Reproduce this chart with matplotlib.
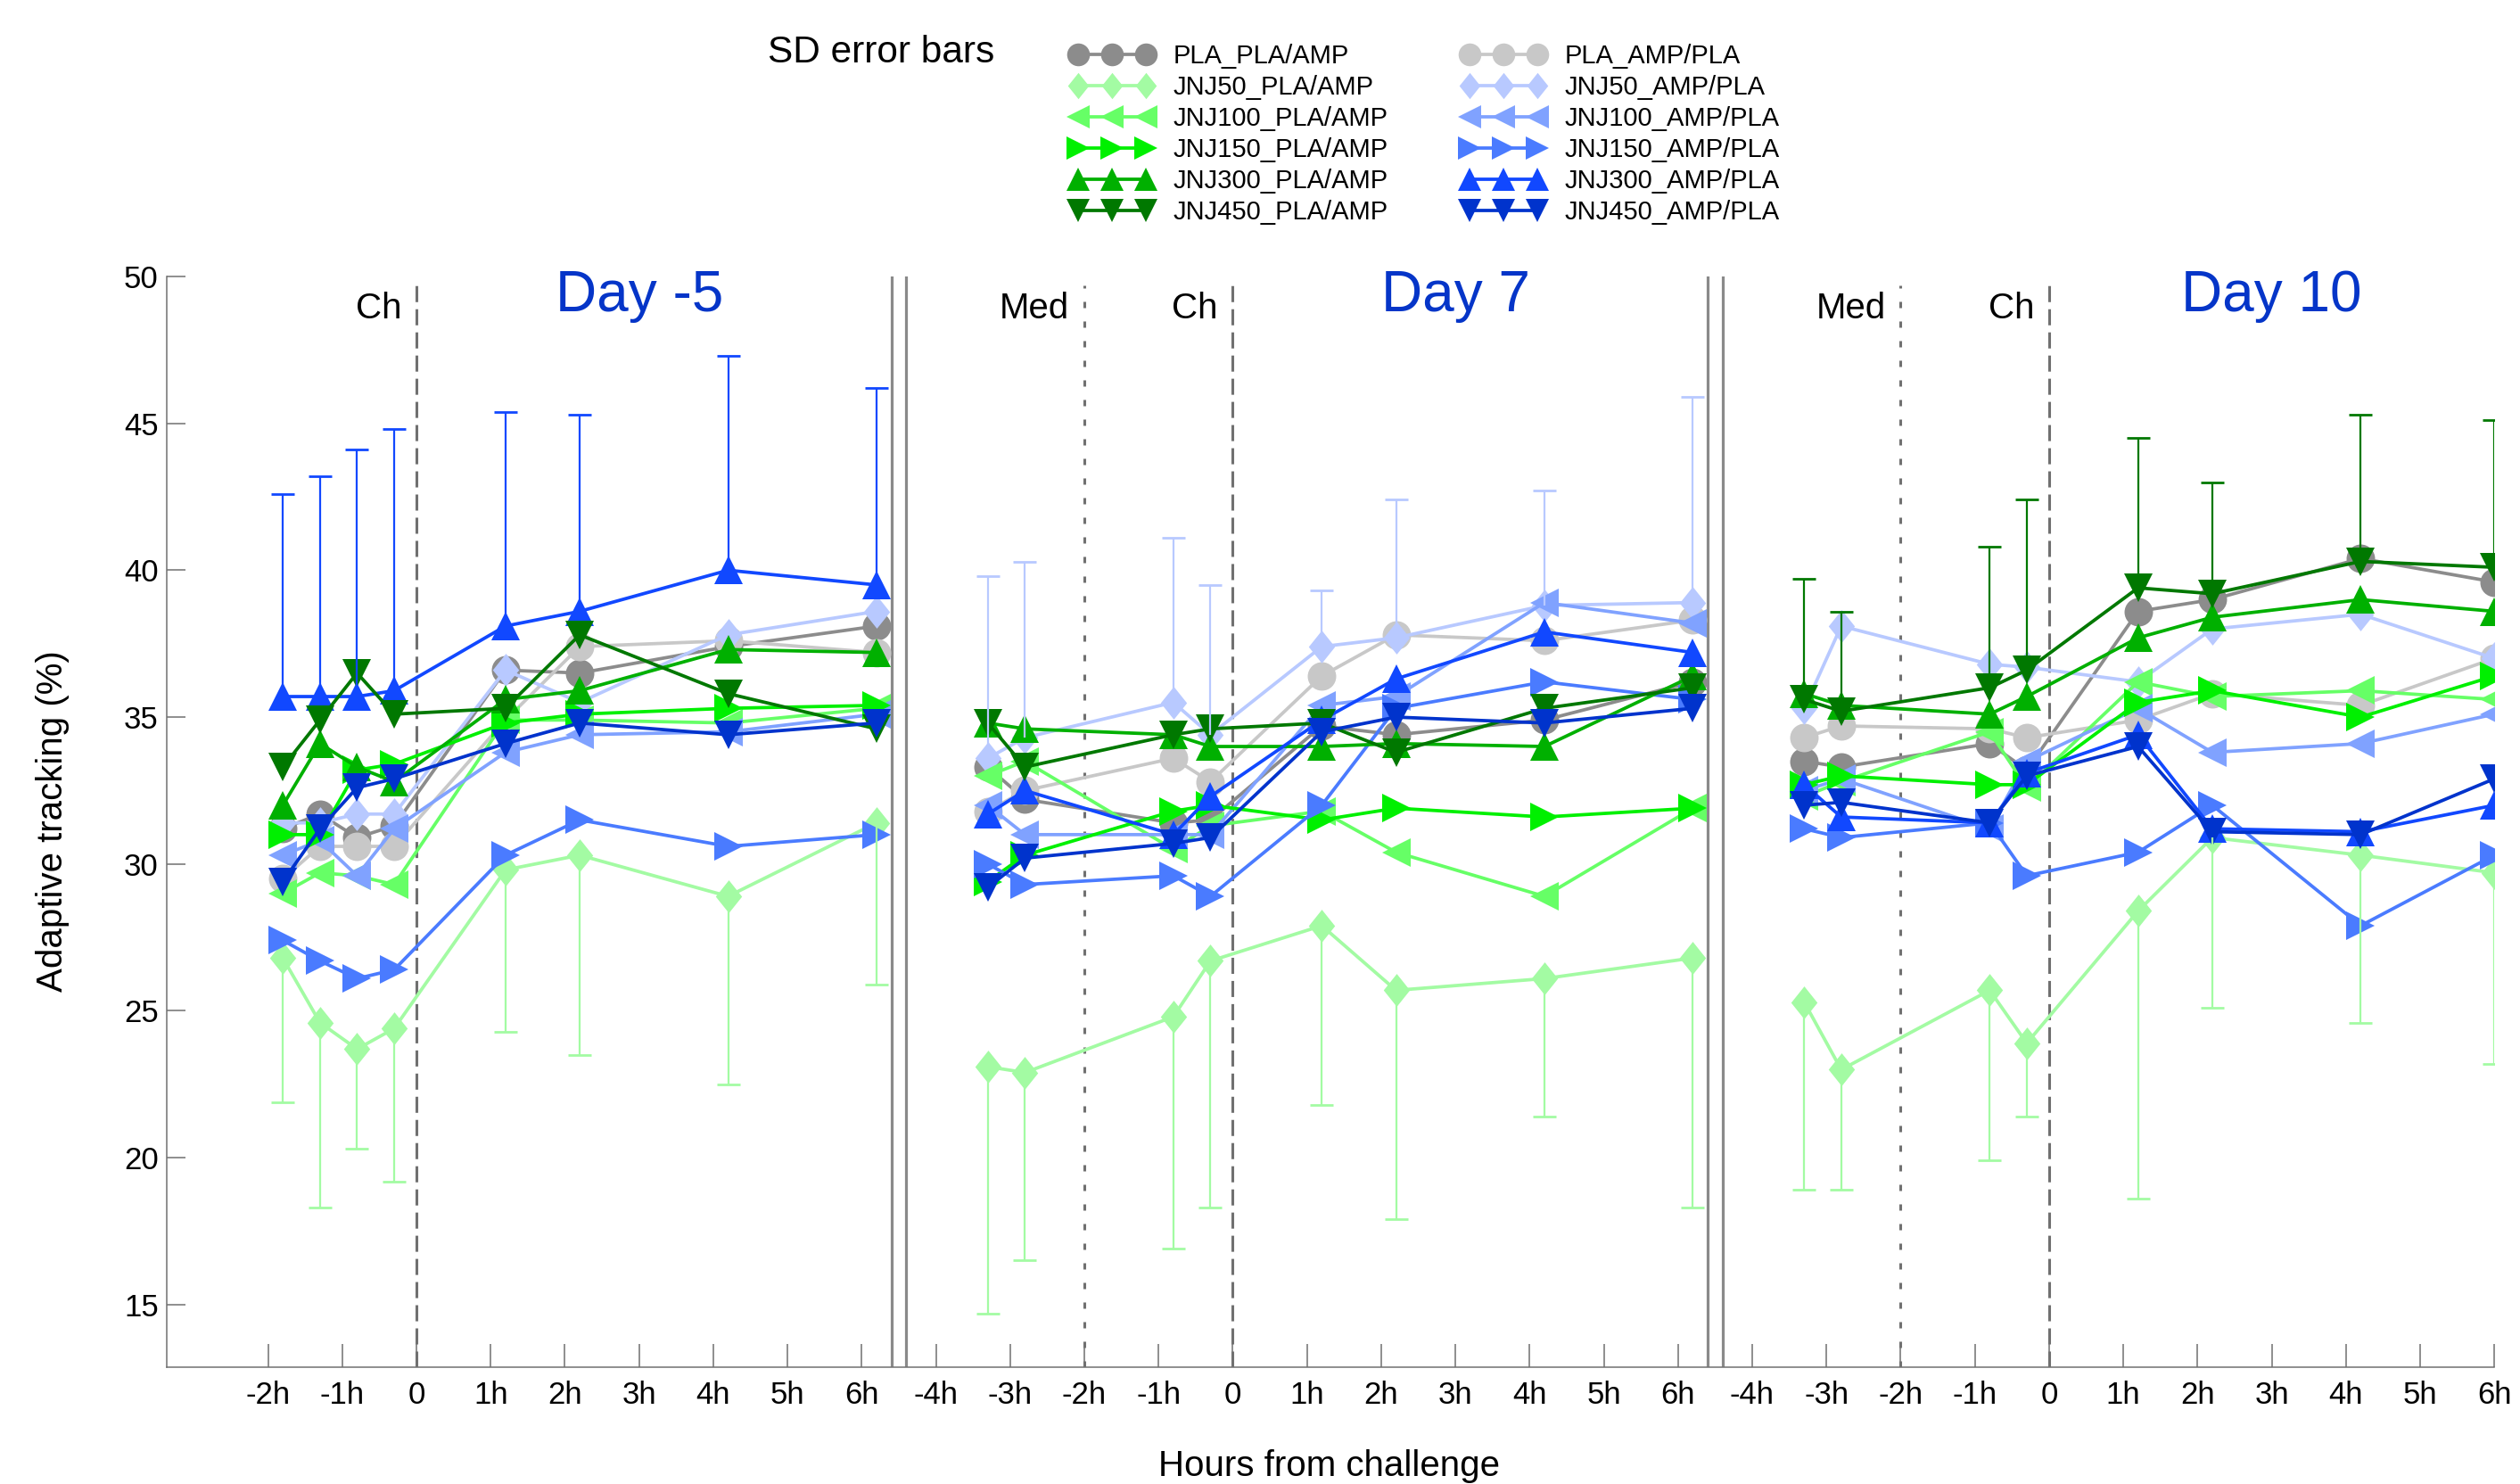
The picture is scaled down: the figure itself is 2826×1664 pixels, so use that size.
import numpy as np
import matplotlib
matplotlib.use('Agg')
import matplotlib.pyplot as plt
from matplotlib.path import Path

plt.rcParams['font.family'] = ['Liberation Sans', 'DejaVu Sans']

# sampling times (hours from challenge) in the three day panels
T_DM5 = [-1.8, -1.3, -0.8, -0.3, 1.2, 2.2, 4.2, 6.2]
T_D7 = [-3.3, -2.8, -0.8, -0.3, 1.2, 2.2, 4.2, 6.2]
T_D10 = [-3.3, -2.8, -0.8, -0.3, 1.2, 2.2, 4.2, 6.0]
DAYS = ['Day -5', 'Day 7', 'Day 10']
PANEL_SHIFT = 11  # hours between the challenge of consecutive panels

TICKS_DM5 = [-2, -1, 0, 1, 2, 3, 4, 5, 6]
TICKS_D7 = [-4, -3, -2, -1, 0, 1, 2, 3, 4, 5, 6]
TICKS_D10 = [-4, -3, -2, -1, 0, 1, 2, 3, 4, 5, 6]

# mean adaptive tracking (%) per group, one list per day panel
PLA_PLA_AMP = [[31.2, 31.7, 30.9, 31.3, 36.6, 36.5, 37.4, 38.1],
               [33.3, 32.2, 31.4, 31.5, 34.7, 34.4, 34.9, 36.2],
               [33.5, 33.3, 34.1, 33.2, 38.6, 39.0, 40.4, 39.6]]
PLA_AMP_PLA = [[29.5, 30.6, 30.6, 30.6, 34.9, 37.4, 37.6, 37.2],
               [31.8, 32.5, 33.6, 32.8, 36.4, 37.8, 37.6, 38.3],
               [34.3, 34.7, 34.6, 34.3, 34.9, 35.8, 35.4, 37.0]]
JNJ50_PLA_AMP = [[26.8, 24.6, 23.7, 24.4, 29.8, 30.3, 28.9, 31.4],
                 [23.1, 22.9, 24.8, 26.7, 27.9, 25.7, 26.1, 26.8],
                 [25.3, 23.0, 25.7, 23.9, 28.4, 30.9, 30.3, 29.7]]
JNJ50_AMP_PLA = [[31.4, 31.4, 31.7, 31.7, 36.6, 35.5, 37.8, 38.6],
                 [33.6, 34.3, 35.5, 34.4, 37.4, 37.7, 38.8, 38.9],
                 [35.3, 38.1, 36.8, 36.7, 36.2, 38.0, 38.5, 37.0]]
JNJ100_PLA_AMP = [[29.0, 29.7, 29.6, 29.3, 34.9, 34.9, 34.8, 35.3],
                  [33.0, 33.5, 30.5, 31.3, 31.8, 30.4, 28.9, 31.9],
                  [32.3, 32.8, 34.5, 32.6, 36.2, 35.7, 35.9, 35.6]]
JNJ100_AMP_PLA = [[30.3, 30.8, 29.6, 31.2, 33.8, 34.4, 34.5, 35.1],
                  [32.0, 31.0, 31.0, 31.0, 35.4, 35.7, 38.9, 38.2],
                  [32.5, 32.9, 31.2, 33.5, 35.3, 33.8, 34.1, 35.1]]
JNJ150_PLA_AMP = [[31.0, 31.0, 33.2, 33.4, 34.8, 35.1, 35.3, 35.4],
                  [29.4, 30.3, 31.8, 32.0, 31.5, 31.9, 31.6, 31.9],
                  [32.7, 33.0, 32.7, 32.7, 35.5, 35.9, 35.0, 36.4]]
JNJ150_AMP_PLA = [[27.4, 26.7, 26.1, 26.4, 30.3, 31.5, 30.6, 31.0],
                  [30.0, 29.3, 29.6, 28.9, 32.0, 35.3, 36.2, 35.6],
                  [31.2, 30.9, 31.4, 29.6, 30.4, 32.0, 27.9, 30.3]]
JNJ300_PLA_AMP = [[32.0, 34.1, 33.3, 32.8, 35.6, 35.9, 37.3, 37.2],
                  [34.8, 34.6, 34.4, 34.0, 34.0, 34.1, 34.0, 36.4],
                  [35.8, 35.4, 35.1, 35.7, 37.7, 38.4, 39.0, 38.6]]
JNJ300_AMP_PLA = [[35.7, 35.7, 35.7, 35.9, 38.1, 38.6, 40.0, 39.5],
                  [31.7, 32.5, 31.0, 32.3, 34.9, 36.3, 37.9, 37.2],
                  [32.7, 31.6, 31.4, 33.1, 34.4, 31.2, 31.1, 32.0]]
JNJ450_PLA_AMP = [[33.3, 34.9, 36.5, 35.1, 35.3, 37.8, 35.8, 34.6],
                  [34.8, 33.3, 34.4, 34.6, 34.8, 33.8, 35.3, 36.0],
                  [35.6, 35.2, 36.0, 36.6, 39.4, 39.2, 40.3, 40.1]]
JNJ450_AMP_PLA = [[29.4, 31.2, 32.6, 32.9, 34.1, 34.8, 34.4, 34.8],
                  [29.2, 30.2, 30.7, 30.9, 34.5, 35.0, 34.8, 35.3],
                  [32.0, 32.1, 31.4, 33.0, 34.0, 31.1, 31.0, 32.9]]

# one-sided SD bars shown in the figure
SD_JNJ300_AMP_PLA_DM5 = [6.9, 7.5, 8.4, 8.9, 7.3, 6.7, 7.3, 6.7]
SD_JNJ50_PLA_AMP_DM5 = [4.9, 6.3, 3.4, 5.2, 5.5, 6.8, 6.4, 5.5]
SD_JNJ50_AMP_PLA_D7 = [6.2, 6.0, 5.6, 5.1, 1.9, 4.7, 3.9, 7.0]
SD_JNJ50_PLA_AMP_D7 = [8.4, 6.4, 7.9, 8.4, 6.1, 7.8, 4.7, 8.5]
SD_JNJ450_PLA_AMP_D10 = [4.1, 3.4, 4.8, 5.8, 5.1, 3.8, 5.0, 5.0]
SD_JNJ50_PLA_AMP_D10 = [6.4, 4.1, 5.8, 2.5, 9.8, 5.8, 5.7, 6.5]

THIN_DIAMOND = Path([(0, 1), (0.8, 0), (0, -1), (-0.8, 0), (0, 1)], closed=True)

SERIES = [
    ('PLA_PLA/AMP', PLA_PLA_AMP, '#8c8c8c', 'o', 23),
    ('PLA_AMP/PLA', PLA_AMP_PLA, '#c8c8c8', 'o', 23),
    ('JNJ50_PLA/AMP', JNJ50_PLA_AMP, '#a3fba3', THIN_DIAMOND, 26.5),
    ('JNJ50_AMP/PLA', JNJ50_AMP_PLA, '#b8c9ff', THIN_DIAMOND, 26.5),
    ('JNJ100_PLA/AMP', JNJ100_PLA_AMP, '#66ff66', '<', 23.5),
    ('JNJ100_AMP/PLA', JNJ100_AMP_PLA, '#80a2ff', '<', 23.5),
    ('JNJ150_PLA/AMP', JNJ150_PLA_AMP, '#00f000', '>', 23.5),
    ('JNJ150_AMP/PLA', JNJ150_AMP_PLA, '#4a7bff', '>', 23.5),
    ('JNJ300_PLA/AMP', JNJ300_PLA_AMP, '#00b000', '^', 23.5),
    ('JNJ300_AMP/PLA', JNJ300_AMP_PLA, '#1148ff', '^', 23.5),
    ('JNJ450_PLA/AMP', JNJ450_PLA_AMP, '#007800', 'v', 23.5),
    ('JNJ450_AMP/PLA', JNJ450_AMP_PLA, '#0033cc', 'v', 23.5),
]
DAY_BLUE = '#0535c8'
GREY = '#707070'
TIMES = [T_DM5, T_D7, T_D10]


def joined(values):
    xs, ys = [], []
    for i, (t, v) in enumerate(zip(TIMES, values)):
        xs += [ti + i * PANEL_SHIFT for ti in t] + [np.nan]
        ys += list(v) + [np.nan]
    return np.array(xs), np.array(ys)


def sd_bars(ax, panel, mean, sd, colour, up):
    x = np.array(TIMES[panel]) + panel * PANEL_SHIFT
    zero = np.zeros(len(sd))
    yerr = [zero, sd] if up else [sd, zero]
    _, caps, _ = ax.errorbar(x, mean, yerr=yerr, fmt='none', ecolor=colour,
                             elinewidth=1.6, capsize=9.4, capthick=2.0, zorder=4)
    caps[0 if up else 1].set_visible(False)


fig = plt.figure(figsize=(28.26, 16.64), dpi=100)
ax = fig.add_axes([0.0663, 0.0787, 0.9235, 0.735])
ymin, ymax = 12.87, 50
ax.set_xlim(-3.36, 28)
ax.set_ylim(ymin, ymax)

handles = {}
for label, vals, col, mk, ms in SERIES:
    x, y = joined(vals)
    ln, = ax.plot(x, y, color=col, lw=2.7, marker=mk, ms=ms, mew=0, label=label, zorder=2)
    handles[label] = ln

sd_bars(ax, 0, JNJ300_AMP_PLA[0], SD_JNJ300_AMP_PLA_DM5, '#1148ff', True)
sd_bars(ax, 0, JNJ50_PLA_AMP[0], SD_JNJ50_PLA_AMP_DM5, '#a3fba3', False)
sd_bars(ax, 1, JNJ50_AMP_PLA[1], SD_JNJ50_AMP_PLA_D7, '#b8c9ff', True)
sd_bars(ax, 1, JNJ50_PLA_AMP[1], SD_JNJ50_PLA_AMP_D7, '#a3fba3', False)
sd_bars(ax, 2, JNJ450_PLA_AMP[2], SD_JNJ450_PLA_AMP_D10, '#007800', True)
sd_bars(ax, 2, JNJ50_PLA_AMP[2], SD_JNJ50_PLA_AMP_D10, '#a3fba3', False)

# panel furniture: separators, challenge / medication markers, titles
for i, day in enumerate(DAYS):
    off = i * PANEL_SHIFT
    ax.vlines(off, ymin, 49.7, color=GREY, lw=2.2, linestyles=[(0, (5.9, 2.6))], zorder=1)
    ax.text(off - 0.2, 48.56, 'Ch', ha='right', va='baseline', fontsize=29)
    if i > 0:
        ax.vlines(off - 2, ymin, 49.7, color=GREY, lw=2.2, linestyles=[(0, (2.3, 4.9))], zorder=1)
        ax.text(off - 2.2, 48.56, 'Med', ha='right', va='baseline', fontsize=29)
    ax.text(off + 3, 48.83, day, ha='center', va='baseline', fontsize=46, color=DAY_BLUE)
    if i < 2:
        for dx in (6.4, 6.6):
            ax.axvline(off + dx, color='#8a8a8a', lw=2.3, zorder=1)

xt, xl = [], []
for i, ticks in enumerate([TICKS_DM5, TICKS_D7, TICKS_D10]):
    for t in ticks:
        xt.append(t + i * PANEL_SHIFT)
        xl.append('0' if t == 0 else f'{t}h')
ax.set_xticks(xt, xl)
ax.set_yticks(range(15, 51, 5))
ax.tick_params(axis='both', direction='in', color=GREY, width=1.1, labelsize=25)
ax.tick_params(axis='x', length=18.5, pad=11)
ax.tick_params(axis='y', length=15, pad=7)
ax.spines[['top', 'right']].set_visible(False)
for s in ('left', 'bottom'):
    ax.spines[s].set_color(GREY)
    ax.spines[s].set_linewidth(1.1)

fig.text(0.021, 0.4465, 'Adaptive tracking (%)', rotation=90, ha='center', va='center', fontsize=29)
fig.text(0.5273, 0.012, 'Hours from challenge', ha='center', va='center', fontsize=29)

fig.text(861 / 2826, 1 - 59 / 1664, 'SD error bars', ha='left', va='center', fontsize=30.5)
order = [lab for lab, *_ in SERIES]
order = order[0::2] + order[1::2]
fig.legend([handles[k] for k in order], order, ncol=2, loc='upper left',
           bbox_to_anchor=(1200 / 2826, 1 - 49 / 1664), frameon=False, fontsize=21,
           numpoints=3, markerscale=0.8, handlelength=3.2, handletextpad=0.75,
           columnspacing=2.85, labelspacing=0.24, borderpad=0, borderaxespad=0)

fig.savefig('out.png', dpi=100)
